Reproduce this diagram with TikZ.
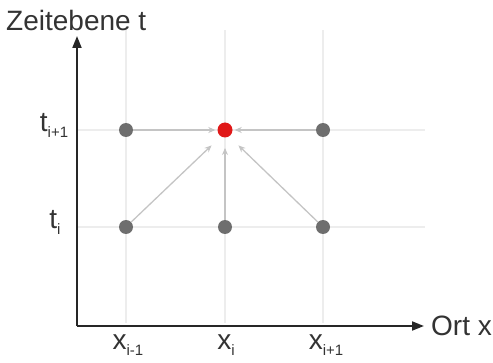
\documentclass[tikz,border=0pt]{standalone}
\usepackage{fontspec}
\setmainfont{Liberation Sans}
\usetikzlibrary{arrows.meta}
\definecolor{gridc}{HTML}{EDEDED}
\definecolor{arrc}{HTML}{C4C4C4}
\definecolor{dotc}{HTML}{6E6E6E}
\definecolor{redc}{HTML}{E01818}
\definecolor{txtc}{HTML}{333333}
\newcommand\mysub[1]{\raisebox{-6pt}{\fontsize{15}{15}\selectfont #1}}
\begin{document}
\begin{tikzpicture}[x=1pt,y=1pt,
  gridline/.style={gridc,line width=1.2pt},
  axis/.style={black!85,line width=1.8pt,-{Triangle[length=12pt,width=9pt]}},
  dot/.style={circle,fill=dotc,minimum size=14pt,inner sep=0pt},
  reddot/.style={circle,fill=redc,minimum size=15pt,inner sep=0pt},
  flow/.style={arrc,line width=1.3pt,-{Stealth[length=7pt,width=6pt]},shorten >=2pt},
  lbl/.style={font=\fontsize{28}{30}\selectfont,text=txtc,inner sep=0pt}
]
\useasboundingbox (0,0) rectangle (493,362);
% grid
\draw[gridline] (126,39) -- (126,332);
\draw[gridline] (225,39) -- (225,332);
\draw[gridline] (323,39) -- (323,332);
\draw[gridline] (77,232) -- (425,232);
\draw[gridline] (77,135) -- (425,135);
% axes
\coordinate (O) at (77,36);
\coordinate (ytop) at (77,326);
\coordinate (xend) at (424,36);
\draw[axis] (O) -- (ytop);
\draw[axis] (O) -- (xend);
% dots
\node[dot] (a1) at (126,232) {};
\node[reddot] (a2) at (225,232) {};
\node[dot] (a3) at (323,232) {};
\node[dot] (b1) at (126,135) {};
\node[dot] (b2) at (225,135) {};
\node[dot] (b3) at (323,135) {};
% arrows
\draw[flow] (a1) -- (a2);
\draw[flow] (a3) -- (a2);
\draw[flow] (b1) -- ([shift={(-12,-14)}]a2.center);
\draw[flow] (b2) -- ([shift={(0,-16)}]a2.center);
\draw[flow] (b3) -- ([shift={(12,-14)}]a2.center);
% labels
\node[lbl,anchor=west] (title) at (6,342) {Zeitebene t};
\node[lbl,anchor=west] (ox) at (431,36) {Ort x};
\node[lbl] (ti1) at (54,237) {t\mysub{i+1}};
\node[lbl] (ti) at (55,140) {t\mysub{i}};
\node[lbl] (xm) at (128,17) {x\mysub{i-1}};
\node[lbl] (xi) at (226,17) {x\mysub{i}};
\node[lbl] (xp) at (326,17) {x\mysub{i+1}};
\end{tikzpicture}
\end{document}
